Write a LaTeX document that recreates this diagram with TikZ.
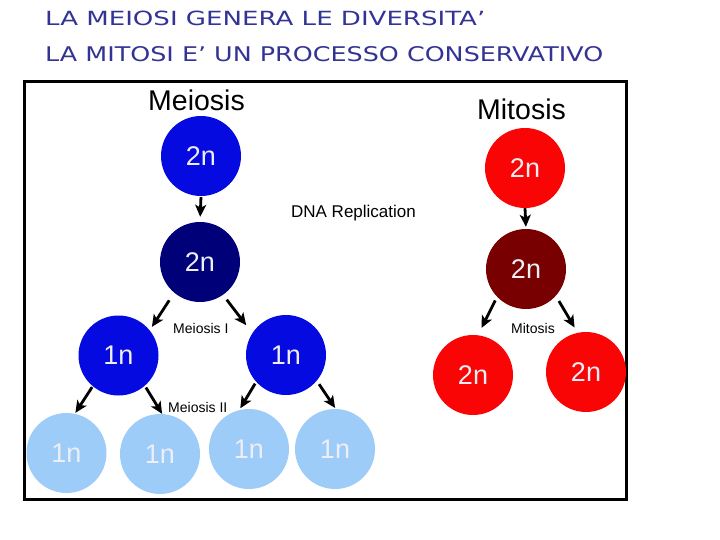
\documentclass[tikz,border=0pt]{standalone}
\usepackage{fontspec}
\setmainfont{Liberation Sans}
\newfontfamily\titlefont{DejaVu Sans}
\usetikzlibrary{arrows.meta}
\definecolor{ttl}{RGB}{51,51,150}
\definecolor{cblue}{RGB}{5,10,225}
\definecolor{cnavy}{RGB}{0,0,120}
\definecolor{cred}{RGB}{250,5,5}
\definecolor{cmaroon}{RGB}{120,0,0}
\definecolor{clight}{RGB}{158,204,248}
\definecolor{ctxt}{RGB}{238,238,246}
\begin{document}
\begin{tikzpicture}[x=1pt,y=-1pt,
  cell/.style={circle,minimum size=80pt,inner sep=0pt,text=ctxt,
    font=\fontsize{27pt}{30pt}\selectfont},
  big/.style={inner sep=0pt,anchor=base,font=\fontsize{28.5pt}{32pt}\selectfont},
  mid/.style={inner sep=0pt,anchor=base,font=\fontsize{17pt}{20pt}\selectfont},
  small/.style={inner sep=0pt,anchor=base west,font=\fontsize{14pt}{16pt}\selectfont},
  ttlnode/.style={inner sep=0pt,anchor=base west,text=ttl},
  arr/.style={-{Stealth[length=12pt,width=11pt,inset=3pt]},line width=2.8pt,black}]
\useasboundingbox (0,0) rectangle (720,540);
\fill[white] (0,0) rectangle (720,540);
% titles
\node[ttlnode] (t1) at (45,26) {\resizebox{440pt}{14.5pt}{\titlefont LA MEIOSI GENERA LE DIVERSITA’}};
\node[ttlnode] (t2) at (45,62) {\resizebox{558pt}{15pt}{\titlefont LA MITOSI E’ UN PROCESSO CONSERVATIVO}};
% frame
\draw[line width=3pt] (24,81.5) rectangle (626.5,499.5);
% headings
\node[big] (hme) at (196.5,111) {Meiosis};
\node[big] (hmi) at (521.5,120) {Mitosis};
\node[mid] (dna) at (353.5,218) {DNA Replication};
\node[small] (m1) at (173,333) {Meiosis I};
\node[small] (m2) at (168,412) {Meiosis II};
\node[small] (mt) at (511,333) {Mitosis};
% meiosis cells
\node[cell,fill=cblue] (b1) at (201,156) {2n};
\node[cell,fill=cnavy] (b2) at (200,262) {2n};
\node[cell,fill=cblue] (l1) at (118.5,355.5) {1n};
\node[cell,fill=cblue] (r1) at (286,355) {1n};
\node[cell,fill=clight] (q1) at (66.5,453) {1n};
\node[cell,fill=clight] (q2) at (160,454) {1n};
\node[cell,fill=clight] (q3) at (249,449) {1n};
\node[cell,fill=clight] (q4) at (335,449) {1n};
% mitosis cells
\node[cell,fill=cred] (s1) at (525,168) {2n};
\node[cell,fill=cmaroon] (s2) at (526,269) {2n};
\node[cell,fill=cred] (s3) at (473,375) {2n};
\node[cell,fill=cred] (s4) at (586,372) {2n};
% arrows
\draw[arr,shorten <=1pt,shorten >=5pt] (b1.south) -- (b2.north);
\draw[arr,shorten <=0pt,shorten >=2pt] (s1.south) -- (s2.north);
\draw[arr,shorten <=9pt,shorten >=4pt] (b2.230) -- (l1.39);
\draw[arr,shorten <=6pt,shorten >=10pt] (b2.305) -- (r1.147);
\draw[arr,shorten <=1pt,shorten >=1pt] (l1.230) -- (q1.78);
\draw[arr,shorten <=2pt,shorten >=0pt] (l1.311) -- (q2.87);
\draw[arr,shorten <=2pt,shorten >=2pt] (r1.222) -- (q3.104);
\draw[arr,shorten <=4pt,shorten >=1pt] (r1.320) -- (q4.89);
\draw[arr,shorten <=4pt,shorten >=8pt] (s2.224) -- (s3.83);
\draw[arr,shorten <=6pt,shorten >=6pt] (s2.318) -- (s4.102);
\end{tikzpicture}
\end{document}
